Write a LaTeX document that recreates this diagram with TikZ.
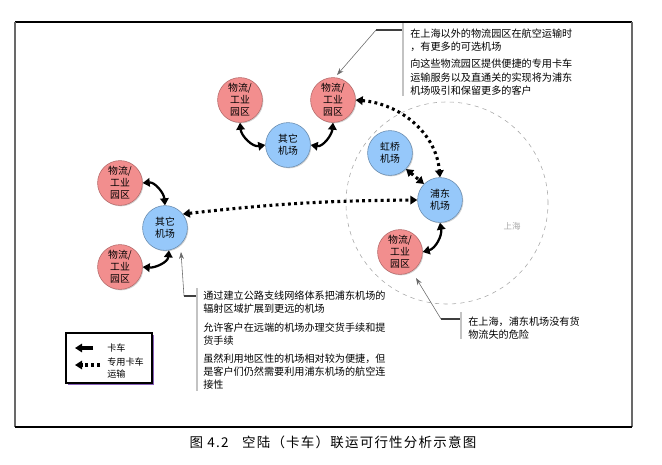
\documentclass[tikz,border=0pt]{standalone}
\usepackage{fontspec}
\newfontfamily\cjk{Noto Sans CJK SC}
\newfontfamily\cjkwide{Noto Sans CJK SC}[LetterSpace=9]
\usetikzlibrary{arrows.meta,positioning,calc,shadows}
\definecolor{parkred}{RGB}{242,142,142}
\definecolor{portblue}{RGB}{150,200,250}
\definecolor{framegray}{RGB}{105,105,105}
\definecolor{bargray}{RGB}{195,195,195}
\definecolor{shadowpurple}{RGB}{135,95,185}
\tikzset{
  park/.style={circle, fill=parkred, draw=parkred!75!black, thin, minimum size=1.12cm,
    inner sep=0pt, align=center, font=\cjk\fontsize{7}{8.6}\selectfont,
    drop shadow={shadow xshift=0.7pt, shadow yshift=-0.7pt, opacity=0.35}},
  port/.style={park, fill=portblue, draw=portblue!70!black},
  truck/.style={{Triangle[length=5pt,width=6pt]}-{Triangle[length=5pt,width=6pt]}, line width=1.6pt},
  feeder/.style={truck, line width=2.2pt, dash pattern=on 2pt off 2.4pt},
  note/.style={anchor=west, align=left, inner sep=0pt, font=\cjk\fontsize{7.2}{9.6}\selectfont},
  pointer/.style={draw=framegray, thin, -{Stealth[length=5pt,width=3.5pt]}},
  bar/.style={draw=bargray, line width=1.3pt},
  tick/.style={draw=framegray!60!black, line width=1.1pt},
}

\begin{document}
\begin{tikzpicture}[x=0.025cm, y=-0.025cm]
  \useasboundingbox (0,0) rectangle (662,465);

  \draw[black, line width=1pt] (15,22) -- (632,22);
  \draw[framegray, line width=0.8pt] (15,22) -- (15,427) (632,22) -- (632,427);
  \draw[black, line width=2pt] (15,427) -- (632,427);

  \node[draw=gray!70, dashed, thin, circle, minimum size=5.05cm] (shanghai) at (447,203) {};
  \node[font=\cjk\fontsize{6}{7}\selectfont, text=gray!70] (shlabel) at (512,226) {上海};

  \node[park] (parkA) at (240,100) {物流/\\工业\\园区};
  \node[park] (parkB) at (333,100) {物流/\\工业\\园区};
  \node[port] (portA) at (288,145) {其它\\机场};
  \node[park] (parkC) at (120,183) {物流/\\工业\\园区};
  \node[port] (portL) at (165,228) {其它\\机场};
  \node[park] (parkD) at (120,267) {物流/\\工业\\园区};
  \node[port] (hongqiao) at (390,153) {虹桥\\机场};
  \node[port] (pudong) at (440,200) {浦东\\机场};
  \node[park] (parkE) at (400,252) {物流/\\工业\\园区};

  \draw[truck] (parkA.south) to[out=-85,in=190] (portA.west);
  \draw[truck] (parkB.south) to[out=-95,in=-10] (portA.east);
  \draw[truck] (parkC.east) to[out=5,in=95] (portL.north);
  \draw[truck] (parkD.east) to[out=-5,in=-95] (portL.-80);
  \draw[truck] (parkE.east) to[out=15,in=-80] (pudong.south);

  \draw[feeder] (parkB.east) to[out=-5,in=95] (pudong.north);
  \draw[feeder] (portL.38) to[bend left=3] (pudong.west);
  \draw[feeder] (hongqiao.-45) -- (pudong.135);

  \coordinate (tipT) at (337,75);
  \coordinate (cornT) at (376,30);
  \coordinate (barT) at (402,30);
  \draw[pointer] (cornT) -- (tipT);
  \draw[tick] (cornT) -- (barT);
  \draw[bar] (403,23) -- (403,96);
  \node[note] (noteT1) at (410,34) {在上海以外的物流园区在航空运输时};
  \node[note] (noteT2) at (410,47) {，有更多的可选机场};
  \node[note] (noteT3) at (410,64) {向这些物流园区提供便捷的专用卡车};
  \node[note] (noteT4) at (410,78) {运输服务以及直通关的实现将为浦东};
  \node[note] (noteT5) at (410,91) {机场吸引和保留更多的客户};

  \coordinate (tipL) at (181,252);
  \coordinate (cornL) at (184,296);
  \coordinate (barL) at (196,296);
  \draw[pointer] (cornL) -- (tipL);
  \draw[tick] (cornL) -- (barL);
  \draw[bar] (197,288) -- (197,391);
  \node[note] (noteL1) at (203,296) {通过建立公路支线网络体系把浦东机场的};
  \node[note] (noteL2) at (203,309) {辐射区域扩展到更远的机场};
  \node[note] (noteL3) at (203,328) {允许客户在远端的机场办理交货手续和提};
  \node[note] (noteL4) at (203,341) {货手续};
  \node[note] (noteL5) at (203,359) {虽然利用地区性的机场相对较为便捷，但};
  \node[note] (noteL6) at (203,372) {是客户们仍然需要利用浦东机场的航空连};
  \node[note] (noteL7) at (203,385) {接性};

  \coordinate (tipR) at (416,278);
  \coordinate (cornR) at (441,319);
  \coordinate (barR) at (460,319);
  \draw[pointer] (cornR) -- (tipR);
  \draw[tick] (cornR) -- (barR);
  \draw[bar] (461,312) -- (461,339);
  \node[note] (noteR1) at (468,322) {在上海，浦东机场没有货};
  \node[note] (noteR2) at (468,335) {物流失的危险};

  \draw[fill=shadowpurple, draw=none] (68,335) rectangle (154,385);
  \draw[fill=white, draw=black, line width=1pt] (66,333) rectangle (152,383);
  \coordinate (lgSolidA) at (93,348);
  \coordinate (lgSolidB) at (75,348);
  \coordinate (lgDotA) at (100,365);
  \coordinate (lgDotB) at (75,365);
  \draw[line width=2.4pt, -{Triangle[length=5pt,width=6pt]}] (lgSolidA) -- (lgSolidB);
  \draw[line width=2.4pt, dash pattern=on 2pt off 2.2pt, -{Triangle[length=5pt,width=6pt]}] (lgDotA) -- (lgDotB);
  \node[note, font=\cjk\fontsize{6.5}{8}\selectfont] (lgTruck) at (107,348) {卡车};
  \node[note, font=\cjk\fontsize{6.5}{8}\selectfont] (lgFeeder) at (107,368) {专用卡车\\运输};

  \node[font=\cjkwide\fontsize{9.6}{12}\selectfont] (caption) at (333,442) {图\ 4.2\quad 空陆（卡车）联运可行性分析示意图};
\end{tikzpicture}
\end{document}
